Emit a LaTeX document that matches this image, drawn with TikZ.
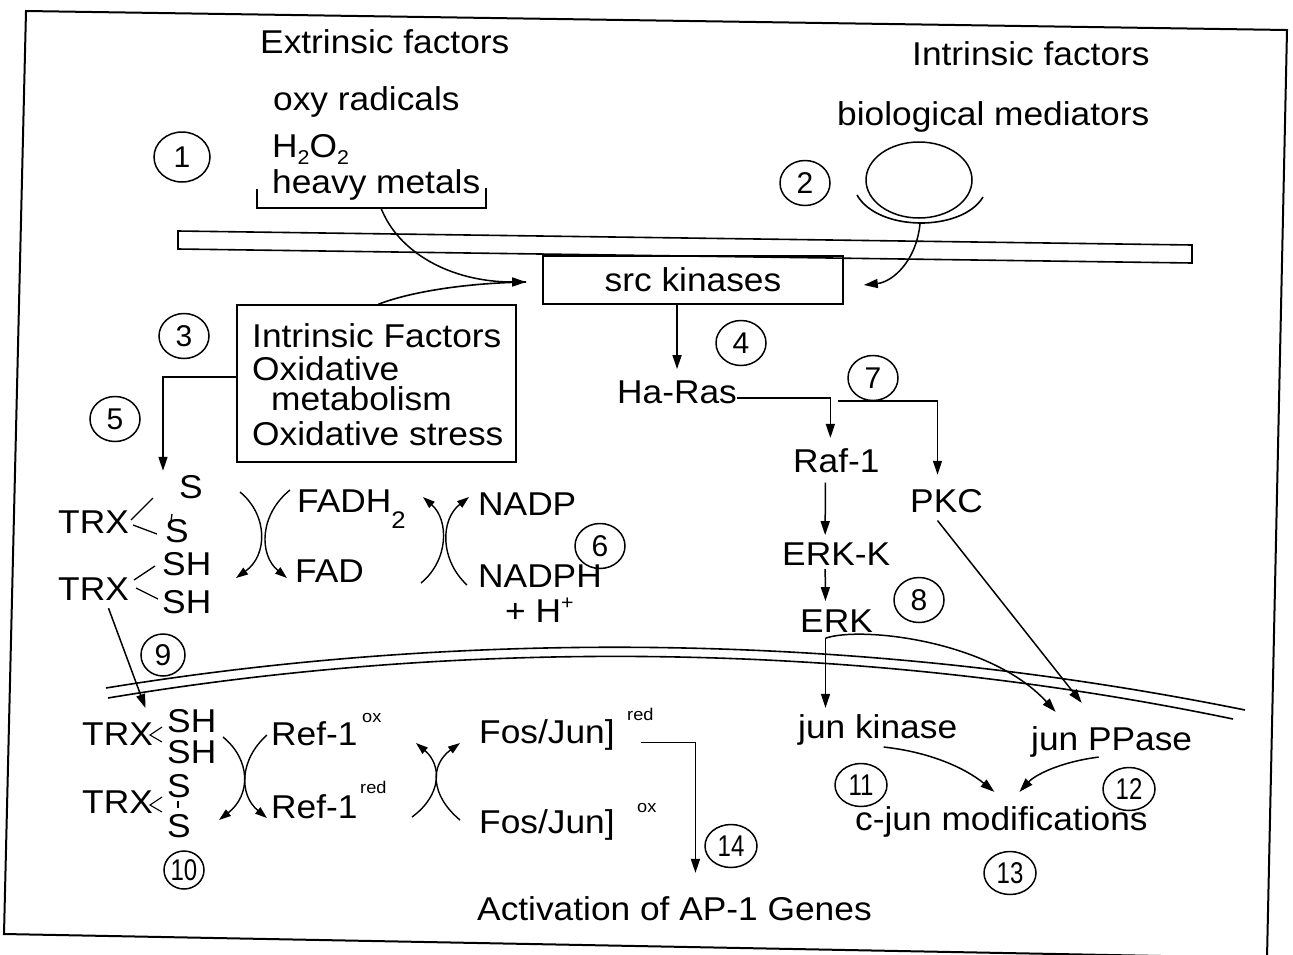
\documentclass[tikz,border=0pt]{standalone}
\usepackage{fontspec}
\setmainfont[FakeStretch=1.07]{Liberation Sans}
\newfontfamily\digitfont{Liberation Sans}
\newfontfamily\squeezedfont[FakeStretch=0.8]{Liberation Sans}
\usetikzlibrary{arrows.meta,shapes.geometric,calc}
\newcommand{\bigtxt}{\fontsize{33}{38}\selectfont}
\newcommand{\smalltxt}{\fontsize{17}{19}\selectfont}
\newcommand{\lowered}[1]{\raisebox{-7pt}{\fontsize{20}{22}\selectfont #1}}
\begin{document}
\begin{tikzpicture}[x=1pt,y=-1pt,
  txt/.style={inner sep=0pt, anchor=base west, font=\bigtxt},
  suplbl/.style={inner sep=0pt, anchor=base west, font=\smalltxt},
  stepnum/.style={draw, ellipse, line width=1.5pt, minimum width=50pt,
    minimum height=45pt, inner sep=0pt, font=\digitfont\fontsize{30}{32}\selectfont},
  twodigit/.style={stepnum, font=\squeezedfont\fontsize{30}{32}\selectfont,
    minimum width=52pt, minimum height=43pt},
  wire/.style={line width=1.6pt},
  arw/.style={line width=1.5pt, -{Triangle[length=14pt,width=9pt]}},
  sarw/.style={line width=1.4pt, -{Triangle[length=12pt,width=8pt]}},
  panel/.style={draw, line width=1.6pt, inner sep=0pt}
]
\useasboundingbox (0,0) rectangle (1293,954);
\fill[white] (0,0) rectangle (1293,954);

% outer frame
\draw[line width=2pt] (26,11) -- (1287,30) -- (1267,958) -- (4,934) -- cycle;

% plasma membrane
\draw[wire] (178,231) -- (1192,245) -- (1192,263) -- (178,249) -- cycle;

% nuclear envelope
\draw[wire] (106,688) .. controls (400,640) and (800,620) .. (1245,710);
\draw[wire] (108,698) .. controls (400,649) and (800,629) .. (1233,719);

% ---------- extrinsic factors ----------
\node[txt] (extr) at (260,53) {Extrinsic factors};
\node[txt] (oxy) at (273,110) {oxy radicals};
\node[txt] (hoo) at (272,157) {H\lowered{2}O\lowered{2}};
\node[txt] (heavy) at (272,193) {heavy metals};
\draw[wire] (257,189) -- (257,208) -- (486,208) -- (486,188);
\coordinate (brk) at (381,208);

% ---------- intrinsic factors ----------
\node[txt] (intr) at (912,65) {Intrinsic factors};
\node[txt] (biom) at (837,125) {biological mediators};
\node[draw, ellipse, line width=1.5pt, minimum width=106pt, minimum height=76pt] (ligand) at (919,180) {};
\draw[wire] (857,195) .. controls (878,232) and (962,232) .. (983,197);
\coordinate (medB) at (920,224);

% ---------- src kinases ----------
\node[panel, minimum width=300pt, minimum height=48pt, font=\bigtxt] (src) at (693,280) {src kinases};
\coordinate (srcL) at ([xshift=-16pt,yshift=-2pt]src.west);
\coordinate (srcR) at ([xshift=20pt,yshift=-5pt]src.east);

% ---------- intrinsic factors box ----------
\node[panel, minimum width=279pt, minimum height=157pt] (ifac) at (376.5,383.5) {};
\node[txt] (if1) at (252,347) {Intrinsic Factors};
\node[txt] (if2) at (252,380) {Oxidative};
\node[txt] (if3) at (271,410) {metabolism};
\node[txt] (if4) at (252,445) {Oxidative stress};
\coordinate (ifacT) at ([xshift=2pt]ifac.north);

\draw[arw] (brk) .. controls (398,252) and (450,282) .. (srcL);
\draw[wire] (ifacT) .. controls (410,292) and (465,283) .. (srcL);
\draw[arw] (medB) .. controls (916,262) and (892,282) .. (srcR);

% ---------- Ras cascade ----------
\node[txt] (has) at (617,403) {Ha-Ras};
\node[txt] (raf) at (793,472) {Raf-1};
\node[txt] (pkc) at (910,512) {PKC};
\node[txt] (erkk) at (782,565) {ERK-K};
\node[txt] (erk) at (800,632) {ERK};

\draw[arw] (src.south -| has.north) -- ([yshift=11pt]has.north);
\draw[arw] ([yshift=-6pt]has.east) -| ([xshift=-6pt,yshift=10pt]raf.north);
\draw[arw] ($(has.east -| raf.north)+(2,9)$) -| ([xshift=-9pt,yshift=14pt]pkc.north);
\draw[arw] ([xshift=-11pt,yshift=-10pt]raf.south) -- ([xshift=-11pt,yshift=7pt]erkk.north);
\draw[arw] ([xshift=-11pt,yshift=-4pt]erkk.south) -- ([xshift=-11pt,yshift=8pt]erk.north);

\coordinate (erkfoot) at ([xshift=-11pt,yshift=-6pt]erk.south);

% ---------- nuclear targets ----------
\node[txt] (jk) at (798,738) {jun kinase};
\node[txt] (jp) at (1031,750) {jun PPase};
\node[txt] (cj) at (855,830) {c-jun modifications};

\draw[arw] (erkfoot) -- ([yshift=6pt]erkfoot |- jk.north);
\draw[arw] (erkfoot) .. controls (860,626) and (990,640) .. ([xshift=-56pt,yshift=14pt]jp.north);
\draw[arw] ([xshift=-9pt,yshift=-8pt]pkc.south) -- ([xshift=-30pt,yshift=23pt]jp.north);
\draw[arw] ([xshift=6pt,yshift=-2pt]jk.south) .. controls (930,752) and (965,768) .. ([xshift=-7pt,yshift=14pt]cj.north);
\draw[arw] ([xshift=-13pt]jp.south) .. controls (1060,762) and (1035,775) .. ([xshift=18pt,yshift=14pt]cj.north);

% ---------- thioredoxin (cytoplasm) ----------
\node[txt] (s1) at (179,498) {S};
\node[txt] (trx1) at (58,533) {TRX};
\node[txt] (s2) at (165,542) {S};
\draw[line width=1.3pt] (172,514) -- (171,521);
\draw[line width=1.3pt] (131,520) -- (153,498);
\draw[line width=1.3pt] (133,525) -- (157,534);

\node[txt] (sh1) at (162,575) {SH};
\node[txt] (trx2) at (58,600) {TRX};
\node[txt] (sh2) at (162,613) {SH};
\draw[line width=1.3pt] (134,580) -- (155,566);
\draw[line width=1.3pt] (136,588) -- (158,599);

\draw[arw] ([yshift=6.5pt]ifac.west) -| ([xshift=-16pt,yshift=4pt]s1.north west);

\node[txt] (fadh) at (297,512) {FADH\raisebox{-16pt}{\fontsize{24}{26}\selectfont 2}};
\node[txt] (fad) at (295,582) {FAD};
\node[txt] (nadp) at (478,515) {NADP};
\node[txt] (nadph) at (478,587) {NADPH};
\node[txt] (hplus) at (505,622) {+ H\raisebox{13pt}{\fontsize{20}{22}\selectfont +}};

% redox couple TRX / FAD
\draw[sarw] (240,492) .. controls (268,515) and (268,555) .. (236,578);
\draw[sarw] (290,490) .. controls (259,515) and (259,555) .. (287,578);
% redox couple FAD / NADP
\draw[sarw] (421,583) .. controls (449,560) and (449,520) .. (423,497);
\draw[sarw] (467,585) .. controls (440,560) and (440,520) .. (469,497);

% ---------- thioredoxin (nucleus) ----------
\node[txt] (trx3) at (82,745) {TRX};
\node[txt] (sh3) at (167,732) {SH};
\node[txt] (sh4) at (167,763) {SH};
\draw[line width=1.1pt] (162,727) -- (150,735) -- (162,742);

\node[txt] (trx4) at (82,813) {TRX};
\node[txt] (s3) at (167,797) {S};
\node[txt] (s4) at (167,837) {S};
\draw[line width=1.1pt] (162,797) -- (150,805) -- (162,812);
\draw[line width=1.3pt] (178,801) -- (178,808);

\draw[arw] ([xshift=15pt,yshift=-8pt]trx2.south) -- ([xshift=28pt,yshift=14pt]trx3.north);

\node[txt] (refox) at (271,745) {Ref-1};
\node[suplbl] (refoxs) at (362,722) {ox};
\node[txt] (refred) at (271,818) {Ref-1};
\node[suplbl] (refreds) at (360,793) {red};

\draw[sarw] (223,737) .. controls (251,760) and (251,795) .. (219,820);
\draw[sarw] (267,735) .. controls (239,760) and (239,795) .. (267,818);
\draw[sarw] (412,817) .. controls (442,795) and (442,765) .. (416,743);
\draw[sarw] (460,820) .. controls (430,795) and (430,765) .. (460,743);

\node[txt] (fosr) at (479,743) {Fos/Jun]};
\node[suplbl] (fosrs) at (627,720) {red};
\node[txt] (foso) at (479,833) {Fos/Jun]};
\node[suplbl] (fosos) at (637,812) {ox};

\node[txt] (act) at (477,920) {Activation of AP-1 Genes};
\draw[arw] ([xshift=26pt,yshift=-8pt]fosr.east) -| ([xshift=21pt,yshift=23pt]act.north);

% ---------- numbered steps ----------
\node[stepnum, minimum width=56pt, minimum height=50pt] (n1) at (182,157) {1};
\node[stepnum] (n2) at (805,183) {2};
\node[stepnum] (n3) at (184,336) {3};
\node[stepnum] (n4) at (741,343) {4};
\node[stepnum] (n5) at (115,419) {5};
\node[stepnum] (n6) at (600,546) {6};
\node[stepnum] (n7) at (873,378) {7};
\node[stepnum] (n8) at (919,600) {8};
\node[stepnum, minimum width=44pt, minimum height=42pt] (n9) at (163,655) {9};
\node[twodigit, minimum width=40pt, minimum height=38pt] (n10) at (184,870) {10};
\node[twodigit] (n11) at (861,785) {11};
\node[twodigit] (n12) at (1129,789) {12};
\node[twodigit] (n13) at (1010,873) {13};
\node[twodigit] (n14) at (731,846) {14};
\end{tikzpicture}
\end{document}
